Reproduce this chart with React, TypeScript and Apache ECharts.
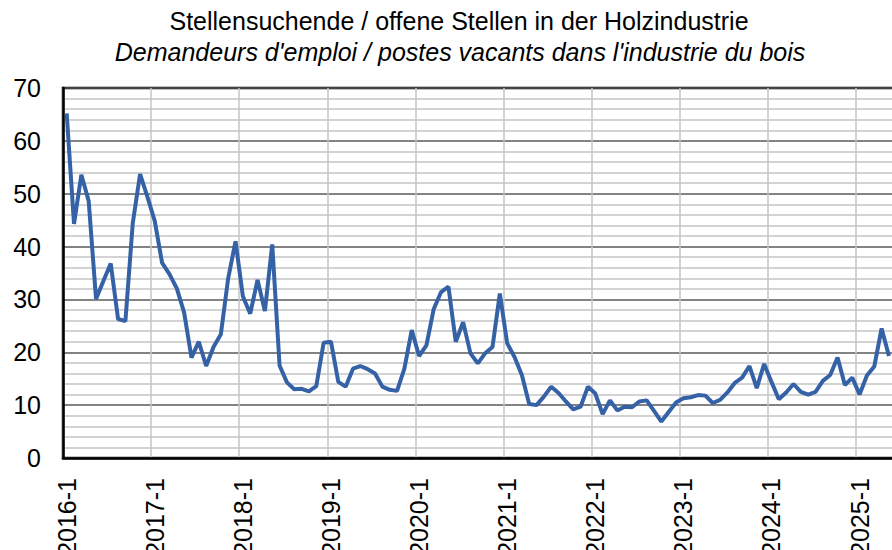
import React, { useEffect, useRef } from "react";
import * as echarts from "echarts";

const titleLine1 = "Stellensuchende / offene Stellen in der Holzindustrie";
const titleLine2 = "Demandeurs d'emploi / postes vacants dans l'industrie du bois";

const years = [2016, 2017, 2018, 2019, 2020, 2021, 2022, 2023, 2024, 2025];
const months = [1, 2, 3, 4, 5, 6, 7, 8, 9, 10, 11, 12];
const categories: string[] = [];
years.forEach((y) => months.forEach((m) => categories.push(`${y}-${m}`)));

const ratio = [
  65.2, 44.3, 53.6, 48.6, 30.1, 33.5, 36.8, 26.3, 25.9, 44.4, 53.7, 49.4,
  44.8, 36.9, 34.8, 32.1, 27.5, 19.0, 22.0, 17.4, 21.0, 23.4, 34.0, 41.0,
  30.6, 27.3, 33.7, 27.8, 40.4, 17.5, 14.3, 13.0, 13.1, 12.6, 13.6, 21.8,
  22.0, 14.4, 13.5, 16.9, 17.4, 16.8, 16.0, 13.5, 12.9, 12.7, 16.9, 24.2,
  19.3, 21.3, 28.2, 31.4, 32.4, 22.0, 25.7, 19.8, 17.9, 19.8, 21.0, 31.1,
  21.7, 19.1, 15.7, 10.2, 10.0, 11.6, 13.5, 12.3, 10.7, 9.2, 9.7, 13.5,
  12.2, 8.3, 10.9, 9.0, 9.7, 9.6, 10.7, 10.9, 8.9, 6.9, 8.7, 10.5,
  11.3, 11.5, 11.9, 11.8, 10.4, 11.0, 12.4, 14.2, 15.2, 17.4, 13.2, 17.8,
  14.4, 11.1, 12.4, 14.0, 12.5, 12.0, 12.5, 14.6, 15.7, 19.0, 13.8, 15.2,
  12.0, 15.6, 17.3, 24.5, 19.3,
];

const yMin = 0;
const yMax = 70;
const yStep = 10;

const FONT = "'Liberation Sans', Arial, sans-serif";

export default function App() {
  const ref = useRef<HTMLDivElement>(null);
  useEffect(() => {
    if (!ref.current) return;
    const chart = echarts.init(ref.current, null, { renderer: "svg" });
    chart.setOption({
      animation: false,
      graphic: [
        {
          type: "text",
          x: 459,
          y: 21,
          style: {
            text: titleLine1,
            font: `25px ${FONT}`,
            fill: "#000",
            textAlign: "center",
            textVerticalAlign: "middle",
          },
        },
        {
          type: "text",
          x: 460,
          y: 52,
          style: {
            text: titleLine2,
            font: `italic 25px ${FONT}`,
            fill: "#000",
            textAlign: "center",
            textVerticalAlign: "middle",
          },
        },
      ],
      grid: {
        left: 63,
        right: 56,
        top: 88,
        bottom: 92,
        outerBoundsMode: "none",
        containLabel: false,
        show: true,
        borderColor: "#000",
        borderWidth: 2.5,
        backgroundColor: "transparent",
      },
      xAxis: {
        type: "category",
        data: categories,
        boundaryGap: true,
        axisLine: { show: true, lineStyle: { color: "#000", width: 2.5 } },
        axisTick: { show: false },
        axisLabel: {
          interval: (i: number) => i % 12 === 0,
          rotate: 90,
          margin: 20,
          fontSize: 25,
          fontFamily: FONT,
          color: "#000",
        },
        splitLine: {
          show: true,
          interval: (i: number) => i % 12 === 0,
          lineStyle: { color: "#c4c4c4", width: 1.5 },
        },
      },
      yAxis: {
        type: "value",
        min: yMin,
        max: yMax,
        interval: yStep,
        axisLine: { show: true, lineStyle: { color: "#000", width: 2.5 } },
        axisTick: { show: false },
        axisLabel: {
          margin: 22,
          fontSize: 25,
          fontFamily: FONT,
          color: "#000",
        },
        splitLine: { show: true, lineStyle: { color: "#5a5a5a", width: 1.5 } },
        minorTick: { show: false, splitNumber: 5 },
        minorSplitLine: { show: true, lineStyle: { color: "#c4c4c4", width: 1.5 } },
      },
      series: [
        {
          type: "line",
          data: ratio,
          symbol: "none",
          lineStyle: { color: "#3561a6", width: 4 },
          itemStyle: { color: "#3561a6" },
        },
      ],
    });
    return () => chart.dispose();
  }, []);
  return (
    <div
      style={{
        position: "fixed",
        left: 0,
        top: 0,
        width: 892,
        height: 550,
        overflow: "hidden",
        background: "#fff",
      }}
    >
      <div ref={ref} style={{ width: 1000, height: 550 }} />
    </div>
  );
}
